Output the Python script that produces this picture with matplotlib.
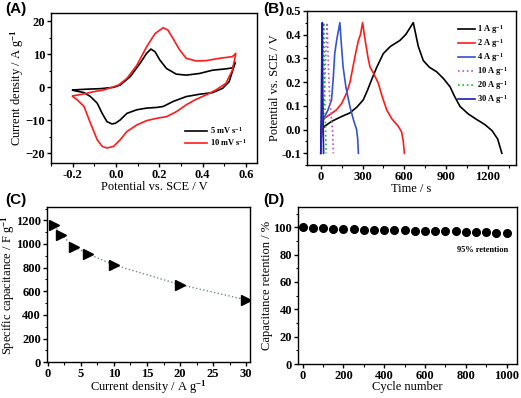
import matplotlib
matplotlib.use("Agg")

import numpy as np
import matplotlib.pyplot as plt
from matplotlib.ticker import MultipleLocator


# ─────────────────────────────────────────────────────────────────────────────
#  DATA
# ─────────────────────────────────────────────────────────────────────────────

# (A) CV curves, potential (V) / current density (A g-1)
cv5_v = [-0.2, -0.148, -0.072, -0.011, 0.019, 0.065, 0.111, 0.141, 0.161, 0.18,
         0.202, 0.233, 0.278, 0.324, 0.385, 0.446, 0.507, 0.537, 0.55,
         0.522, 0.492, 0.446, 0.385, 0.324, 0.263, 0.218, 0.187, 0.141, 0.096,
         0.05, 0.019, -0.003, -0.019, -0.042, -0.064, -0.087, -0.118, -0.148, -0.2]
cv5_i = [-0.8, -0.6, -0.4, 0.0, 0.7, 3.2, 7.3, 10.3, 11.6, 10.8,
         8.3, 5.7, 4.0, 3.7, 4.2, 5.2, 5.6, 5.9, 7.5,
         1.7, -0.3, -1.6, -2.1, -2.8, -4.3, -5.8, -6.1, -6.3, -6.8,
         -7.9, -9.9, -10.9, -11.1, -10.4, -7.9, -4.8, -2.8, -1.6, -0.9]

cv10_v = [-0.2, -0.148, -0.102, -0.057, -0.019, 0.012, 0.05, 0.096, 0.141, 0.18,
          0.218, 0.24, 0.263, 0.294, 0.324, 0.37, 0.416, 0.477, 0.537, 0.553,
          0.537, 0.507, 0.461, 0.416, 0.37, 0.324, 0.278, 0.233, 0.187, 0.141,
          0.096, 0.05, 0.019, -0.011, -0.042, -0.064, -0.087, -0.118, -0.148,
          -0.179, -0.2]
cv10_i = [-2.6, -2.0, -1.3, -0.8, 0.0, 0.7, 2.7, 6.7, 12.3, 16.3,
          18.1, 17.3, 14.8, 11.3, 8.8, 8.0, 8.1, 8.8, 9.3, 10.3,
          5.2, 1.2, -0.8, -2.3, -3.6, -5.3, -7.4, -8.9, -9.4, -10.1,
          -11.4, -13.4, -15.9, -17.9, -18.4, -17.9, -15.9, -10.9, -5.8,
          -3.8, -2.8]

# (B) GCD curves, time (s) / potential (V)
gcd_labels = ["1 A g$^{-1}$", "2 A g$^{-1}$", "4 A g$^{-1}$",
              "10 A g$^{-1}$", "20 A g$^{-1}$", "30 A g$^{-1}$"]
gcd_t = [
    [0, 3, 8, 30, 80, 150, 209, 260, 305, 335, 365, 400, 449, 500, 568, 610, 664,
     700, 736, 780, 832, 880, 928, 960, 1000, 1060, 1120, 1180, 1230, 1270, 1300],
    [0, 3, 10, 29, 70, 113, 150, 185, 210, 233, 255, 270, 285, 300,
     320, 340, 353, 380, 413, 440, 473, 510, 556, 580, 592, 600],
    [0, 2, 6, 17, 50, 77, 90, 100, 115, 137,
     145, 160, 180, 209, 235, 257, 265, 270],
    [0, 3, 12, 25, 38, 45,
     55, 65, 78, 86, 90],
    [0, 2, 6, 12, 18, 21,
     26, 30, 34, 38],
    [0, 1, 3, 6, 9, 11,
     14, 17, 20],
]
gcd_v = [
    [-0.1, -0.05, 0.0, 0.015, 0.035, 0.055, 0.07, 0.095, 0.125, 0.165, 0.21,
     0.26, 0.32, 0.35, 0.375, 0.40, 0.45,
     0.35, 0.29, 0.262, 0.243, 0.215, 0.18, 0.14, 0.097, 0.065, 0.042, 0.02,
     -0.005, -0.04, -0.1],
    [-0.1, -0.02, 0.03, 0.049, 0.065, 0.083, 0.11, 0.153, 0.2, 0.27, 0.335,
     0.375, 0.40, 0.45,
     0.37, 0.3, 0.264, 0.235, 0.195, 0.14, 0.083, 0.045, 0.014, -0.01, -0.05, -0.1],
    [-0.1, -0.02, 0.02, 0.042, 0.08, 0.125, 0.22, 0.32, 0.38, 0.45,
     0.38, 0.264, 0.18, 0.097, 0.04, 0.0, -0.04, -0.1],
    [-0.1, 0.0, 0.05, 0.15, 0.35, 0.45,
     0.26, 0.12, 0.04, -0.02, -0.1],
    [-0.1, 0.0, 0.06, 0.2, 0.38, 0.45,
     0.22, 0.08, 0.0, -0.1],
    [-0.1, 0.0, 0.07, 0.25, 0.4, 0.45,
     0.15, 0.02, -0.1],
]
gcd_colors = ["#000000", "#ff1a1a", "#3553cf", "#c04ce0", "#12c012", "#1c1cb4"]
gcd_styles = ["-", "-", "-", ":", ":", "-"]

# (C) specific capacitance
cur_density = [1, 2, 4, 6, 10, 20, 30]
spec_cap = [1157, 1077, 977, 918, 823, 656, 528]

# (D) cycling stability
cycles = [0, 50, 100, 150, 200, 250, 300, 350, 400, 450, 500,
          550, 600, 650, 700, 750, 800, 850, 900, 950, 1000]
retention = [100, 99.5, 99.2, 99.0, 98.6, 98.5, 98.3, 98.2, 98.0, 97.9, 97.7,
             97.6, 97.5, 97.2, 97.0, 96.9, 96.7, 96.5, 96.2, 96.0, 95.5]


# ─────────────────────────────────────────────────────────────────────────────
#  STYLE
# ─────────────────────────────────────────────────────────────────────────────

plt.rcParams["font.family"] = "Liberation Serif"
plt.rcParams["font.weight"] = "bold"
plt.rcParams["mathtext.fontset"] = "custom"
plt.rcParams["mathtext.bf"] = "Liberation Serif:bold"
plt.rcParams["mathtext.rm"] = "Liberation Serif:bold"
plt.rcParams["mathtext.default"] = "bf"
plt.rcParams["axes.linewidth"] = 1.0

TICK_FS = 9
LABEL_FS = 9


def style_axis(ax):
    ax.tick_params(which="major", direction="out", length=3, width=1,
                   labelsize=TICK_FS, pad=1.2, top=False, right=False)
    ax.tick_params(which="minor", direction="out", length=1.8, width=0.8,
                   top=False, right=False)
    for lab in ax.get_xticklabels() + ax.get_yticklabels():
        lab.set_fontweight("bold")


def panel_label(fig, x, y, text):
    fig.text(x, y, text, fontsize=11, fontweight="bold",
             family="Liberation Sans", ha="left", va="top")


fig = plt.figure(figsize=(5.21, 3.98), dpi=100)

# ─────────────────────────────────────────────────────────────────────────────
#  (A) CV
# ─────────────────────────────────────────────────────────────────────────────
axA = fig.add_axes([0.098, 0.590, 0.395, 0.377])
axA.plot(cv5_v, cv5_i, color="black", lw=1.2, label="5 mV s$^{-1}$")
axA.plot(cv10_v, cv10_i, color="#ff1a1a", lw=1.2, label="10 mV s$^{-1}$")
axA.set_xlim(-0.30, 0.65)
axA.set_ylim(-23, 22.5)
axA.set_xticks([-0.2, 0.0, 0.2, 0.4, 0.6])
axA.set_xticklabels(["-0.2", "0.0", "0.2", "0.4", "0.6"])
axA.xaxis.set_minor_locator(MultipleLocator(0.1))
axA.set_yticks([-20, -10, 0, 10, 20])
axA.yaxis.set_minor_locator(MultipleLocator(5))
axA.set_xlabel("Potential vs. SCE / V", fontsize=LABEL_FS, labelpad=0)
axA.set_ylabel("Current density / A g$^{-1}$", fontsize=LABEL_FS, labelpad=0)
axA.legend(loc="lower right", bbox_to_anchor=(0.99, 0.05), frameon=False,
           fontsize=6, handlelength=2.6, handletextpad=0.4, labelspacing=0.2)
style_axis(axA)

# ─────────────────────────────────────────────────────────────────────────────
#  (B) GCD
# ─────────────────────────────────────────────────────────────────────────────
axB = fig.add_axes([0.589, 0.585, 0.401, 0.388])
for t, v, c, ls, lab in zip(gcd_t, gcd_v, gcd_colors, gcd_styles, gcd_labels):
    axB.plot(t, v, color=c, lw=1.2, ls=ls, label=lab)
axB.set_xlim(-100, 1400)
axB.set_ylim(-0.15, 0.5)
axB.set_xticks([0, 300, 600, 900, 1200])
axB.xaxis.set_minor_locator(MultipleLocator(150))
axB.set_yticks([-0.1, 0.0, 0.1, 0.2, 0.3, 0.4, 0.5])
axB.set_yticklabels(["-0.1", "0.0", "0.1", "0.2", "0.3", "0.4", "0.5"])
axB.yaxis.set_minor_locator(MultipleLocator(0.05))
axB.set_xlabel("Time / s", fontsize=LABEL_FS, labelpad=0)
axB.set_ylabel("Potential vs. SCE / V", fontsize=LABEL_FS, labelpad=0)
axB.legend(loc="upper right", bbox_to_anchor=(1.0, 0.97), frameon=False,
           fontsize=6, handlelength=2.0, handletextpad=0.3, labelspacing=0.12)
style_axis(axB)

# ─────────────────────────────────────────────────────────────────────────────
#  (C) Specific capacitance
# ─────────────────────────────────────────────────────────────────────────────
axC = fig.add_axes([0.090, 0.090, 0.390, 0.389])
axC.plot(cur_density, spec_cap, color="#6f8c8c", lw=1.0, ls=":", zorder=2)
axC.plot(cur_density, spec_cap, ls="none", marker=">", ms=7,
         color="black", zorder=3)
axC.set_xlim(-0.15, 30.6)
axC.set_ylim(0, 1310)
axC.set_xticks([0, 5, 10, 15, 20, 25, 30])
axC.xaxis.set_minor_locator(MultipleLocator(2.5))
axC.set_yticks([0, 200, 400, 600, 800, 1000, 1200])
axC.yaxis.set_minor_locator(MultipleLocator(100))
axC.set_xlabel("Current density / A g$^{-1}$", fontsize=LABEL_FS, labelpad=-1)
axC.set_ylabel("Specific capacitance / F g$^{-1}$", fontsize=LABEL_FS, labelpad=-1)
style_axis(axC)

# ─────────────────────────────────────────────────────────────────────────────
#  (D) Cycling
# ─────────────────────────────────────────────────────────────────────────────
axD = fig.add_axes([0.572, 0.085, 0.420, 0.394])
axD.plot(cycles, retention, ls="none", marker="o", ms=5.5, color="black")
axD.set_xlim(-23, 1050)
axD.set_ylim(0, 114.5)
axD.set_xticks([0, 200, 400, 600, 800, 1000])
axD.xaxis.set_minor_locator(MultipleLocator(100))
axD.set_yticks([0, 20, 40, 60, 80, 100])
axD.yaxis.set_minor_locator(MultipleLocator(10))
axD.set_xlabel("Cycle number", fontsize=LABEL_FS, labelpad=-1)
axD.set_ylabel("Capacitance retention / %", fontsize=LABEL_FS, labelpad=0)
axD.text(1006, 83.5, "95% retention", fontsize=6, fontweight="bold",
         ha="right", va="center")
style_axis(axD)

panel_label(fig, 0.010, 0.995, "(A)")
panel_label(fig, 0.505, 0.995, "(B)")
panel_label(fig, 0.010, 0.515, "(C)")
panel_label(fig, 0.505, 0.515, "(D)")

fig.savefig("out.png", dpi=100)
